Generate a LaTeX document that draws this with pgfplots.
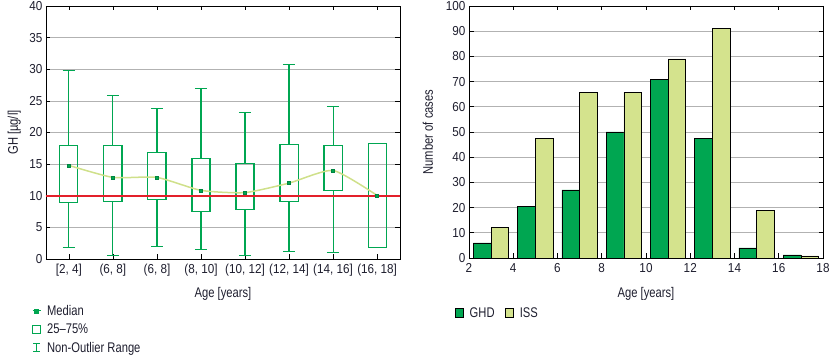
\documentclass[border=0pt]{standalone}
\usepackage{fontspec}
\setmainfont{Liberation Sans}[FakeStretch=0.8]
\newfontfamily\tickfont{Liberation Sans}[FakeStretch=0.9]
\usepackage{pgfplots}
\pgfplotsset{compat=1.18}
\usepgfplotslibrary{statistics}
\definecolor{dkg}{HTML}{00A651}
\definecolor{ltg}{HTML}{D4E38D}
\definecolor{medl}{HTML}{CFE08A}
\definecolor{redl}{HTML}{E3202A}
\definecolor{txt}{HTML}{1E1E2E}
\pgfplotsset{
  common/.style={
    scale only axis,
    font=\fontsize{14}{16}\selectfont,
    tick label style={font=\tickfont\fontsize{13}{15}\selectfont, text=txt},
    xticklabel style={yshift=-2pt},
    label style={font=\fontsize{14}{16}\selectfont, text=txt},
    /pgf/number format/assume math mode=true,
    ymajorgrids,
    grid style={black!30, line width=0.6pt},
    axis line style={line width=0.9pt, black},
    tick style={black, line width=0.7pt},
    major tick length=4.5pt,
    tick align=inside,
    legend style={draw=none, fill=none, font=\fontsize{14}{16}\selectfont, text=txt},
    legend cell align=left,
  }
}
\begin{document}
\begin{tikzpicture}[x=1pt,y=1pt]
\useasboundingbox (0,0) rectangle (831,355);
% ---------------- Panel A ----------------
\begin{axis}[common,
  at={(46pt,96pt)}, anchor=south west,
  width=354pt, height=253pt,
  xmin=-0.52, xmax=7.52, ymin=0, ymax=40,
  ytick={0,5,...,40},
  xtick={0,...,7},
  xticklabels={{[2, 4]},{(6, 8]},{(6, 8]},{(8, 10]},{(10, 12]},{(12, 14]},{(14, 16]},{(16, 18]}},
  xlabel={Age [years]},
  ylabel={GH [µg/l]},
  xlabel style={at={(axis description cs:0.5,-0.138)}, anchor=center},
  ylabel style={at={(axis description cs:-0.09,0.5)}, anchor=center},
  boxplot/draw direction=y,
  boxplot/draw/median/.code={},
  boxplot/every whisker/.style={draw=dkg, line width=1.1pt},
  boxplot/every box/.style={draw=dkg, line width=1.1pt},
  legend style={at={(axis description cs:-0.048,-0.165)}, anchor=north west, row sep=3pt, /tikz/every odd column/.append style={column sep=4pt}},
]
\addplot[dkg, line width=1.1pt, forget plot, boxplot prepared={draw position=0, lower whisker=1.8, lower quartile=8.9, median=14.8, upper quartile=18, upper whisker=29.8, box extend=0.41, whisker extend=0.28}] coordinates {};
\addplot[dkg, line width=1.1pt, forget plot, boxplot prepared={draw position=1, lower whisker=0.5, lower quartile=9.1, median=12.9, upper quartile=18, upper whisker=25.8, box extend=0.41, whisker extend=0.28}] coordinates {};
\addplot[dkg, line width=1.1pt, forget plot, boxplot prepared={draw position=2, lower whisker=1.95, lower quartile=9.4, median=12.9, upper quartile=16.9, upper whisker=23.8, box extend=0.41, whisker extend=0.28}] coordinates {};
\addplot[dkg, line width=1.1pt, forget plot, boxplot prepared={draw position=3, lower whisker=1.5, lower quartile=7.5, median=10.85, upper quartile=15.9, upper whisker=26.9, box extend=0.41, whisker extend=0.28}] coordinates {};
\addplot[dkg, line width=1.1pt, forget plot, boxplot prepared={draw position=4, lower whisker=0.5, lower quartile=7.8, median=10.5, upper quartile=15.1, upper whisker=23.1, box extend=0.41, whisker extend=0.28}] coordinates {};
\addplot[dkg, line width=1.1pt, forget plot, boxplot prepared={draw position=5, lower whisker=1.2, lower quartile=9.1, median=12.0, upper quartile=18.1, upper whisker=30.7, box extend=0.41, whisker extend=0.28}] coordinates {};
\addplot[dkg, line width=1.1pt, forget plot, boxplot prepared={draw position=6, lower whisker=1.05, lower quartile=10.8, median=14.0, upper quartile=18, upper whisker=24.1, box extend=0.41, whisker extend=0.28}] coordinates {};
\addplot[dkg, line width=1.1pt, forget plot, boxplot prepared={draw position=7, lower whisker=1.8, lower quartile=1.8, median=10.05, upper quartile=18.2, upper whisker=18.2, box extend=0.41, whisker extend=0.28}] coordinates {};
\addplot[redl, line width=1.7pt, forget plot] coordinates {(-0.52,10) (7.52,10)};
\addplot[medl, line width=1.5pt, smooth, tension=0.35, forget plot, mark=square*, mark size=1.5pt, mark options={draw=dkg!80!black, fill=dkg, line width=0.4pt}] coordinates {(0,14.8) (1,12.9) (2,12.9) (3,10.85) (4,10.5) (5,12.0) (6,14.0) (7,10.05)};
\addlegendimage{legend image code/.code={\draw[dkg, line width=0.9pt] (0pt,0pt)--(8pt,0pt); \fill[dkg] (2pt,-2pt) rectangle (6pt,2pt);}}
\addlegendentry{Median}
\addlegendimage{legend image code/.code={\draw[dkg, line width=0.8pt] (0pt,-3.8pt) rectangle (7.6pt,3.8pt);}}
\addlegendentry{25--75\%}
\addlegendimage{legend image code/.code={\draw[dkg, line width=0.8pt] (0.5pt,-3.8pt)--(7.5pt,-3.8pt) (4pt,-3.8pt)--(4pt,3.8pt) (0.5pt,3.8pt)--(7.5pt,3.8pt);}}
\addlegendentry{Non-Outlier Range}
\node[font=\bfseries\fontsize{15}{17}\selectfont, text=txt] at (axis description cs:-0.107,0.994) {A};
\end{axis}
% ---------------- Panel B ----------------
\begin{axis}[common,
  at={(469pt,97pt)}, anchor=south west,
  width=354pt, height=252pt,
  xmin=2, xmax=18, ymin=0, ymax=100,
  xtick={2,4,...,18}, ytick={0,10,...,100},
  xlabel={Age [years]},
  ylabel={Number of cases},
  xlabel style={at={(axis description cs:0.5,-0.143)}, anchor=center},
  ylabel style={at={(axis description cs:-0.116,0.5)}, anchor=center},
  legend columns=2,
  legend style={at={(axis description cs:-0.05,-0.18)}, anchor=north west, /tikz/every odd column/.append style={column sep=4pt}, /tikz/every even column/.append style={column sep=8pt}},
]
\addplot[ybar, bar width=0.8, bar shift=-0.4, fill=dkg, draw=black, line width=0.7pt,
  legend image code/.code={\draw[fill=dkg, draw=black, line width=0.7pt] (0pt,-4pt) rectangle (8.5pt,4.5pt);}]
  coordinates {(3,6) (5,20.3) (7,27) (9,50) (11,71) (13,47.3) (15,4) (17,1.2)};
\addlegendentry{GHD}
\addplot[ybar, bar width=0.8, bar shift=0.4, fill=ltg, draw=black, line width=0.7pt,
  legend image code/.code={\draw[fill=ltg, draw=black, line width=0.7pt] (0pt,-4pt) rectangle (8.5pt,4.5pt);}]
  coordinates {(3,12) (5,47.3) (7,65.8) (9,65.8) (11,79) (13,91) (15,18.8) (17,0.8)};
\addlegendentry{ISS}
\node[font=\bfseries\fontsize{15}{17}\selectfont, text=txt] at (axis description cs:-0.116,0.994) {B};
\end{axis}
\end{tikzpicture}
\end{document}
